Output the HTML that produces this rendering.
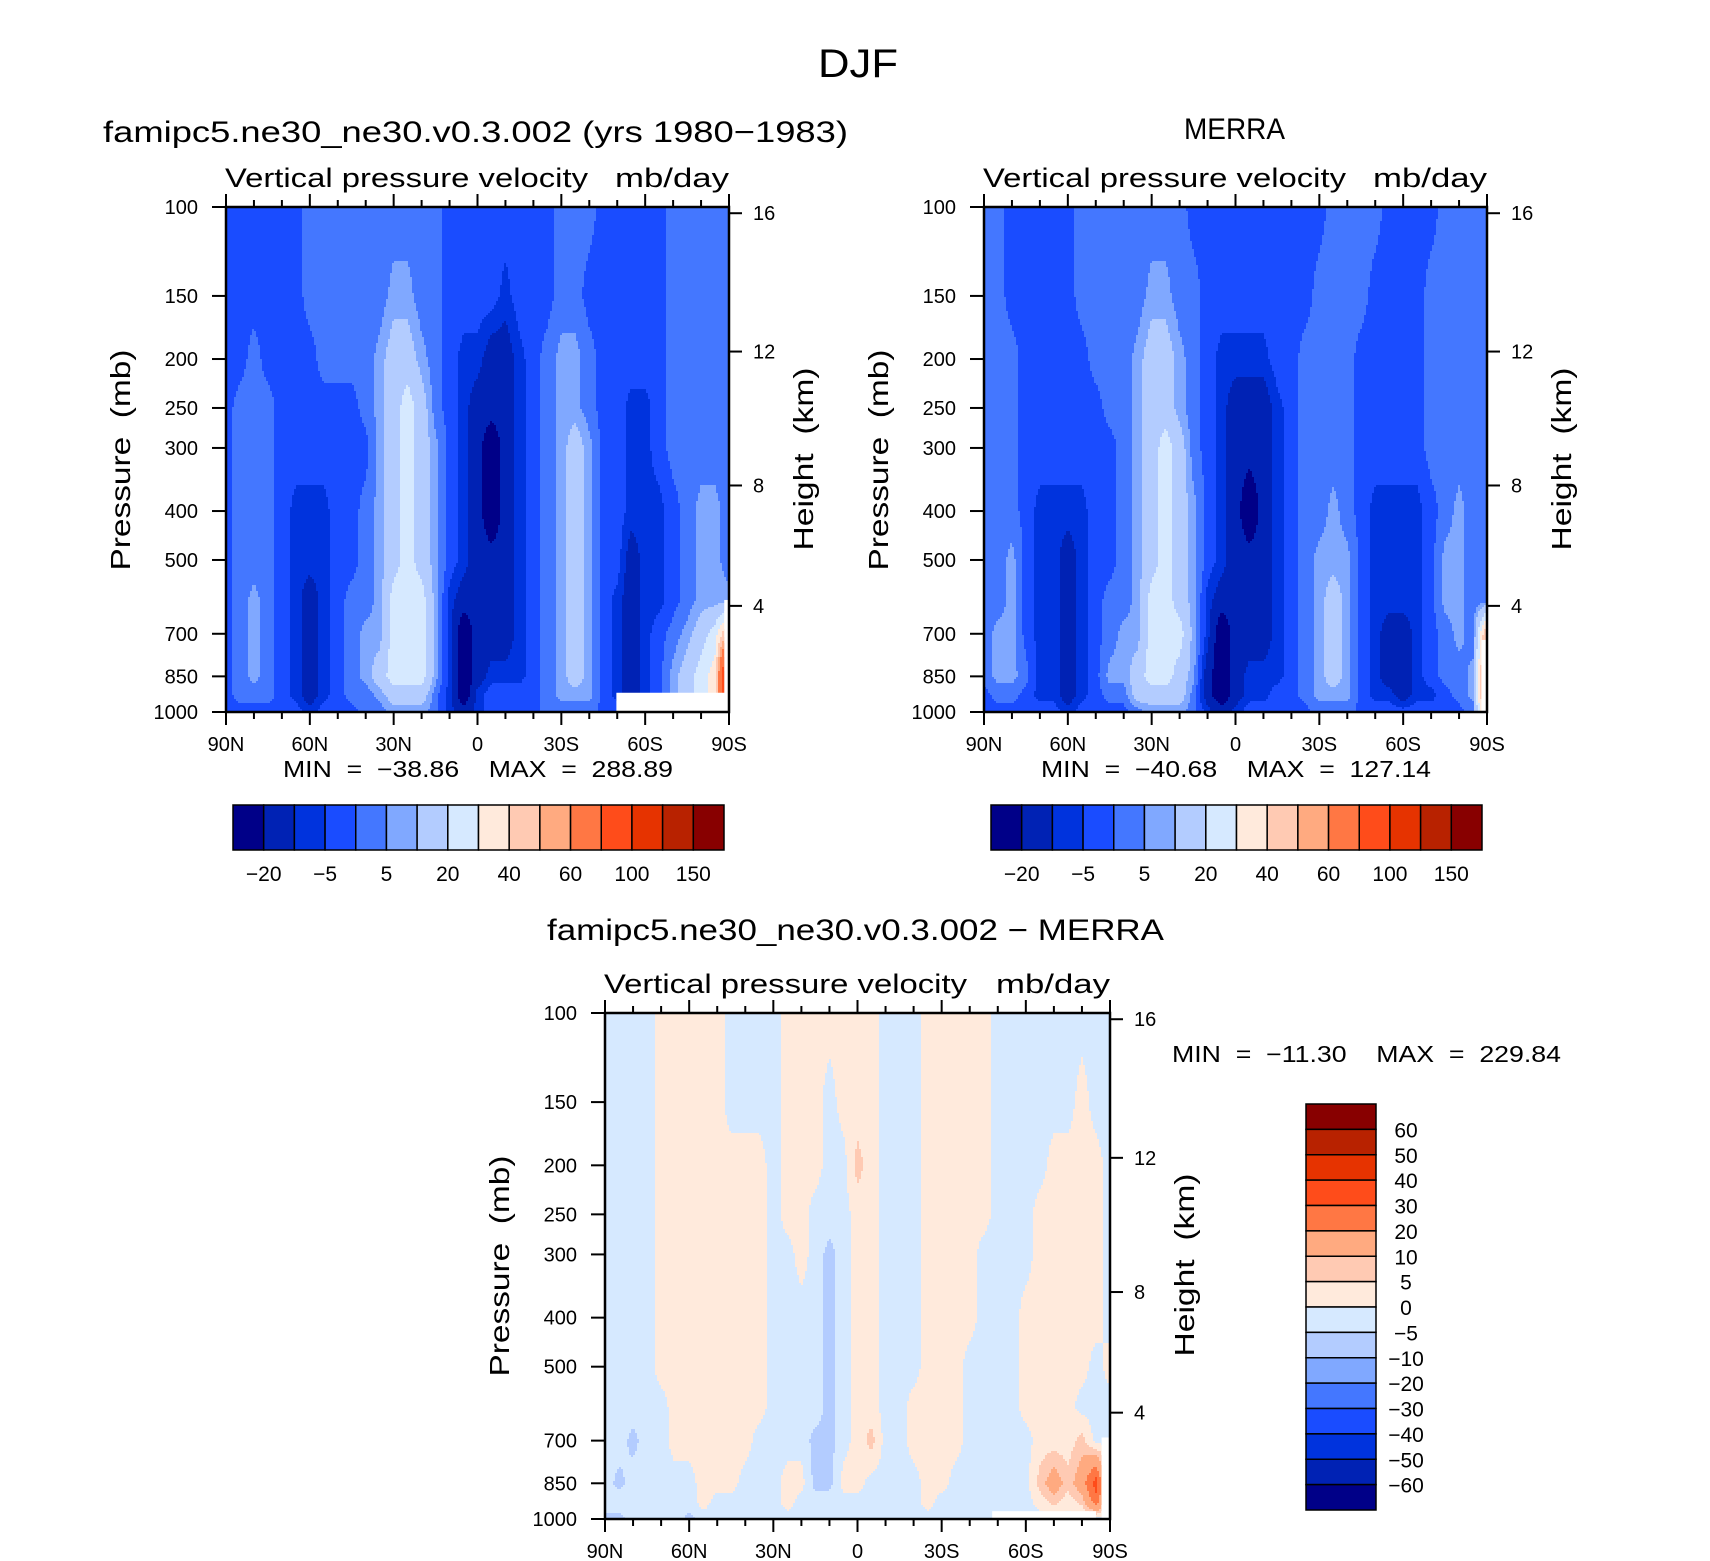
<!DOCTYPE html>
<html><head><meta charset="utf-8"><title>DJF Vertical pressure velocity</title>
<style>
html,body{margin:0;padding:0;background:#fff;}
svg{display:block;font-family:"Liberation Sans",sans-serif;}
text{white-space:pre;}
</style></head>
<body>
<svg id="fig" xmlns="http://www.w3.org/2000/svg" width="1710" height="1561" viewBox="0 0 1710 1561">
<rect x="0" y="0" width="1710" height="1561" fill="#fff"/>
<text x="858" y="77" font-size="40" text-anchor="middle" textLength="80" lengthAdjust="spacingAndGlyphs">DJF</text>
<text x="103" y="142" font-size="30" textLength="745" lengthAdjust="spacingAndGlyphs">famipc5.ne30_ne30.v0.3.002 (yrs 1980−1983)</text>
<text x="1184" y="139" font-size="30" textLength="101" lengthAdjust="spacingAndGlyphs">MERRA</text>
<text x="547" y="940" font-size="30" textLength="617" lengthAdjust="spacingAndGlyphs">famipc5.ne30_ne30.v0.3.002 − MERRA</text>
<g id="plots"></g>
</svg>
<script>
// ---------- data ----------
const lats = [90,85,80,75,70,65,60,55,50,45,40,35,30,25,20,15,10,5,0,-5,-10,-15,-20,-25,-30,-35,-40,-45,-50,-55,-60,-65,-70,-75,-80,-85,-90];
const pLevels = [100,150,200,250,300,400,500,600,700,850,925,1000];
const pressureTicks = [100,150,200,250,300,400,500,700,850,1000];
const kmTicks = [4,8,12,16];
const latTicks = [90,60,30,0,-30,-60,-90];
const latTickLabels = ["90N","60N","30N","0","30S","60S","90S"];
const levelsAbs = [-20,-10,-5,0,5,10,20,30,40,50,60,80,100,120,150];
const levelsDiff = [-60,-50,-40,-30,-20,-10,-5,0,5,10,20,30,40,50,60];
const cbarLabelsAbs = ["−20","−5","5","20","40","60","100","150"];
const cbarLabelsDiff = ["60","50","40","30","20","10","5","0","−5","−10","−20","−30","−40","−50","−60"];
const colors = ["#000088","#0022b4","#0033dd","#1a4cff","#4477ff","#80a8ff","#b3ccff","#d6e9ff","#ffeadc","#ffcab3","#ffaa80","#ff7744","#ff4c1a","#e63300","#b82200","#880000"];

const modelField = [
[-2,-2,-2,-2,-2,-2,2,2,2,2,2,2,2,2,2,2,-2,-2,-2,-2,-2,-2,-2,-2,2,2,2,-2,-2,-2,-2,-2,2,2,2,2,2],
[-2,-2,-2,-2,-2,-2,2,2,2,2,2,2,7,7,2,2,-2,-2,-2,-2,-7,-2,-2,-2,2,2,-2,-2,-2,-2,-2,-2,2,2,2,2,2],
[-2,-2,2,-2,-2,-2,-2,2,2,2,2,7,15,15,7,2,-2,-7,-7,-15,-15,-7,-2,2,7,7,2,-2,-2,-2,-2,-2,2,2,2,2,2],
[-2,2,2,2,-2,-2,-2,-2,-2,-2,2,7,15,25,15,2,-2,-7,-15,-15,-15,-7,-2,2,7,7,2,-2,-2,-7,-7,-2,2,2,2,2,2],
[-2,2,2,2,-2,-2,-2,-2,-2,-2,-2,7,15,25,15,7,-2,-7,-15,-30,-15,-7,-2,2,7,15,7,-2,-2,-7,-7,-2,2,2,2,2,2],
[-2,2,2,2,-2,-7,-7,-7,-2,-2,2,7,15,25,15,7,-2,-7,-15,-30,-15,-7,-2,2,7,15,7,-2,-2,-7,-7,-7,-2,2,7,7,2],
[-2,2,2,2,-2,-7,-7,-7,-2,-2,2,7,15,25,15,7,-2,-7,-15,-15,-15,-7,-2,2,7,15,7,-2,-2,-15,-7,-7,-2,2,7,7,2],
[-2,2,7,2,-2,-7,-15,-7,-2,2,2,7,25,25,25,7,-7,-15,-15,-15,-15,-7,-2,2,7,15,7,-2,-7,-15,-7,-7,-2,2,7,7,7],
[-2,2,7,2,-2,-7,-15,-7,-2,2,7,7,25,25,25,7,-7,-30,-15,-15,-15,-7,-2,2,7,15,7,-2,-7,-15,-7,-2,2,7,15,25,55],
[-2,2,7,2,-2,-7,-15,-7,-2,2,7,15,25,25,25,7,-7,-30,-15,-7,-7,-7,-2,2,7,15,7,-2,-7,-15,-7,-2,7,15,25,35,135],
[-2,2,2,2,-2,-7,-15,-7,-2,2,2,7,15,15,15,2,-7,-30,-7,-2,-2,-2,-2,2,7,7,7,-2,-7,-15,-7,-2,7,15,25,35,135],
[-2,-2,-2,-2,-2,-2,-7,-2,-2,-2,2,2,7,7,7,2,-7,-15,-7,-2,-2,-2,-2,2,2,2,2,-2,-2,-7,-2,-2,2,7,15,25,55]
];
const merraField = [
[2,2,-2,-2,-2,-2,-2,2,2,2,2,2,2,2,2,-2,-2,-2,-2,-2,-2,-2,-2,-2,-2,2,2,2,2,-2,-2,-2,-2,2,2,2,2],
[2,2,-2,-2,-2,-2,-2,2,2,2,2,2,7,7,2,2,-2,-2,-2,-2,-2,-2,-2,-2,2,2,2,2,-2,-2,-2,-2,2,2,2,2,2],
[2,2,2,-2,-2,-2,-2,-2,2,2,2,7,15,15,7,2,-2,-7,-7,-7,-7,-2,-2,2,2,2,2,-2,-2,-2,-2,-2,2,2,2,2,2],
[2,2,2,-2,-2,-2,-2,-2,-2,2,2,7,15,15,7,2,-2,-7,-15,-15,-15,-7,-2,2,2,2,2,-2,-2,-2,-2,-2,2,2,2,2,2],
[2,2,2,-2,-2,-2,-2,-2,-2,-2,2,7,15,25,15,2,-2,-7,-15,-15,-15,-7,-2,2,2,2,2,-2,-2,-2,-2,-2,2,2,2,2,2],
[2,2,2,-2,-7,-7,-7,-7,-2,-2,2,7,15,25,15,7,-2,-7,-15,-30,-15,-7,-2,2,2,7,2,-2,-7,-7,-7,-7,-2,2,7,2,2],
[2,2,7,-2,-7,-7,-15,-7,-2,-2,2,7,15,25,15,7,-2,-7,-15,-15,-15,-7,-2,2,7,7,7,-2,-7,-7,-7,-7,-2,7,7,2,2],
[2,2,7,-2,-7,-7,-15,-7,-2,2,2,7,25,25,15,7,-7,-15,-15,-15,-15,-7,-2,2,7,15,7,-2,-7,-7,-7,-7,-2,7,7,2,2],
[2,7,7,-2,-7,-7,-15,-7,-2,2,7,7,25,25,25,7,-7,-30,-15,-15,-15,-7,-2,2,7,15,7,-2,-7,-15,-15,-7,-2,2,7,2,55],
[2,7,7,2,-7,-7,-15,-7,-2,7,7,15,25,25,15,7,-15,-30,-15,-7,-7,-7,-2,2,7,15,7,-2,-7,-15,-15,-7,-2,2,2,7,70],
[-2,2,2,-2,-7,-7,-15,-7,-2,2,2,15,15,15,15,2,-15,-30,-15,-7,-7,-2,-2,2,7,7,7,-2,-7,-7,-15,-7,-7,-2,2,7,70],
[-2,-2,-2,-2,-2,-2,-7,-2,-2,-2,-2,2,7,7,7,2,-7,-15,-7,-2,-2,-2,-2,-2,2,2,2,-2,-2,-2,-2,-2,-2,-2,-2,2,55]
];
const diffField = [
[-2,-2,-2,-2,2,2,2,2,2,-2,-2,-2,-2,2,2,2,2,2,2,2,-2,-2,-2,2,2,2,2,2,-2,-2,-2,-2,-2,-2,-2,-2,-2],
[-2,-2,-2,-2,2,2,2,2,2,-2,-2,-2,-2,2,2,2,-2,2,2,2,-2,-2,-2,2,2,2,2,2,-2,-2,-2,-2,-2,-2,2,-2,-2],
[-2,-2,-2,-2,2,2,2,2,2,2,2,2,-2,2,2,2,-2,-2,7,2,-2,-2,-2,2,2,2,2,2,-2,-2,-2,-2,2,2,2,2,-2],
[-2,-2,-2,-2,2,2,2,2,2,2,2,2,-2,2,2,-2,-2,-2,2,2,-2,-2,-2,2,2,2,2,2,-2,-2,-2,2,2,2,2,2,-2],
[-2,-2,-2,-2,2,2,2,2,2,2,2,2,-2,-2,2,-2,-7,-2,2,2,-2,-2,-2,2,2,2,2,-2,-2,-2,-2,2,2,2,2,2,-2],
[-2,-2,-2,-2,2,2,2,2,2,2,2,2,-2,-2,-2,-2,-7,-2,2,2,-2,-2,-2,2,2,2,2,-2,-2,-2,2,2,2,2,2,2,-2],
[-2,-2,-2,-2,2,2,2,2,2,2,2,2,-2,-2,-2,-2,-7,-2,2,2,-2,-2,-2,2,2,2,-2,-2,-2,-2,2,2,2,2,2,-2,2],
[-2,-2,-2,-2,-2,2,2,2,2,2,2,2,-2,-2,-2,-2,-7,-2,2,2,-2,-2,2,2,2,2,-2,-2,-2,-2,2,2,2,2,-2,-2,-2],
[-2,-2,-7,-2,-2,2,2,2,2,2,2,-2,-2,-2,-2,-7,-7,-2,2,7,-2,-2,2,2,2,2,-2,-2,-2,-2,-2,2,2,2,7,-2,-2],
[-2,-7,-2,-2,-2,-2,-2,2,2,2,-2,-2,-2,2,2,-7,-7,2,2,-2,-2,-2,-2,2,2,-2,-2,-2,-2,-2,-2,7,15,7,15,35,-2],
[-2,-2,-2,-2,-2,-2,-2,2,-2,-2,-2,-2,-2,2,-2,-2,-2,-2,-2,-2,-2,-2,-2,2,-2,-2,-2,-2,-2,-2,-2,2,7,2,7,25,-2],
[-7,-7,-2,-2,-2,-2,-7,-2,-2,-2,-2,-2,-2,-2,-2,-2,-2,-2,-2,-2,-2,-2,-2,-2,-2,-2,-2,-2,-2,-2,-2,-2,-2,-2,-2,-2,-2]
];
// missing-data regions: [latStart, latEnd, pressureTop]
const modelMissing = [[-49.7,-88.5,916],[-88.3,-90,600]];
const merraMissing = [[-88,-90,720]];
const diffMissing = [[-48,-85,965],[-87,-90,690]];

// ---------- drawing ----------
const NS = "http://www.w3.org/2000/svg";
const root = document.getElementById("plots");
function mk(tag, attrs, parent){
  const e = document.createElementNS(NS, tag);
  for (const k in attrs) e.setAttribute(k, attrs[k]);
  (parent||root).appendChild(e);
  return e;
}
function classOf(v, levels){ let c=0; for(const l of levels){ if(v>=l) c++; } return c; }
function sample(field, fi, lp){
  const nL = lats.length;
  let i = Math.floor(fi); if(i<0)i=0; if(i>nL-2)i=nL-2;
  const tx = Math.min(1,Math.max(0,fi-i));
  let k=0; while(k<pLevels.length-2 && lp>Math.log10(pLevels[k+1])) k++;
  const l0=Math.log10(pLevels[k]), l1=Math.log10(pLevels[k+1]);
  const ty = Math.min(1,Math.max(0,(lp-l0)/(l1-l0)));
  const a=field[k][i], b=field[k][i+1], c=field[k+1][i], d=field[k+1][i+1];
  return (a*(1-tx)+b*tx)*(1-ty)+(c*(1-tx)+d*tx)*ty;
}
function heightToP(km){
  const h=km*1000;
  if(h<=11000) return 1013.25*Math.pow(1-2.25577e-5*h,5.25588);
  return 226.32*Math.exp(-0.000157688*(h-11000));
}

function panel(name, ox, oy, W, H, field, levels, missing, opts){
  const g = mk("g", {});
  
  
  const xOf = lat => ox + (90-lat)/180*W;
  const yOf = p => oy + Math.log10(p/100)*H;
  const cg = mk("g", {"shape-rendering":"crispEdges"}, g);
  
  
  const step=2;
  for(let y=0;y<H;y+=step){
    const lp = 2 + Math.min(y+step/2,H)/H;
    const hh = Math.min(step+0.5, H-y);
    let runStart=0, runC=-1;
    for(let x=0;x<W+step;x+=step){
      let c=-2;
      if(x<W){
        const fi=Math.min(x+step/2,W)/W*(lats.length-1);
        c=classOf(sample(field,fi,lp),levels);
      }
      if(c!==runC){
        if(runC>=0){
          const xe=Math.min(x,W);
          const r=mk("rect",{x:ox+runStart,y:oy+y,width:xe-runStart,height:hh,fill:colors[runC]},cg);
          
          
        }
        runStart=x; runC=c;
      }
    }
  }
  for(const m of missing){
    const x0=xOf(m[0]), x1=xOf(m[1]), y0=yOf(m[2]);
    const r=mk("rect",{x:x0,y:y0,width:x1-x0,height:oy+H-y0,fill:"#fff"},g);
    
    
  }
  const fr=mk("rect",{x:ox,y:oy,width:W,height:H,fill:"none",stroke:"#000","stroke-width":2.5},g);
  
  
  for(let lat=90;lat>=-90;lat-=10){
    const x=xOf(lat), major=(lat%30===0), L=major?13:7;
    const t1=mk("line",{x1:x,y1:oy,x2:x,y2:oy-L,stroke:"#000","stroke-width":2},g);
    
    
    const t2=mk("line",{x1:x,y1:oy+H,x2:x,y2:oy+H+L,stroke:"#000","stroke-width":2},g);
    
    
  }
  latTicks.forEach((lat,i)=>{
    const t=mk("text",{x:xOf(lat),y:oy+H+39,"font-size":20,"text-anchor":"middle"},g);
    t.textContent=latTickLabels[i];
    
    
  });
  pressureTicks.forEach(p=>{
    const y=yOf(p);
    const l=mk("line",{x1:ox,y1:y,x2:ox-14,y2:y,stroke:"#000","stroke-width":2},g);
    
    
    const t=mk("text",{x:ox-28,y:y+7,"font-size":20,"text-anchor":"end"},g);
    t.textContent=String(p);
    
    
  });
  kmTicks.forEach(km=>{
    const y=yOf(heightToP(km));
    const l=mk("line",{x1:ox+W,y1:y,x2:ox+W+13,y2:y,stroke:"#000","stroke-width":2},g);
    
    
    const t=mk("text",{x:ox+W+24,y:y+7,"font-size":20},g);
    t.textContent=String(km);
    
    
  });
  const yt=mk("text",{x:0,y:0,"font-size":28,"text-anchor":"middle",transform:`translate(${ox-96},${oy+253}) rotate(-90)`,textLength:221,lengthAdjust:"spacingAndGlyphs"},g);
  yt.textContent="Pressure  (mb)";
  
  
  const ht=mk("text",{x:0,y:0,"font-size":28,"text-anchor":"middle",transform:`translate(${ox+W+84},${oy+252}) rotate(-90)`,textLength:183,lengthAdjust:"spacingAndGlyphs"},g);
  ht.textContent="Height  (km)";
  
  
  const st=mk("text",{x:ox-1,y:oy-20,"font-size":27,textLength:363,lengthAdjust:"spacingAndGlyphs"},g);
  st.textContent="Vertical pressure velocity";
  
  
  const ut=mk("text",{x:ox+W-114,y:oy-20,"font-size":27,textLength:114,lengthAdjust:"spacingAndGlyphs"},g);
  ut.textContent="mb/day";
  
  
  const mm=mk("text",{x:opts.mmX,y:opts.mmY,"font-size":23,textLength:opts.mmW,lengthAdjust:"spacingAndGlyphs"},g);
  mm.textContent=opts.mm;
  
  
}

function hColorbar(name, x0, y0, w, h){
  const g=mk("g",{});
  
  
  const bw=w/colors.length;
  colors.forEach((c,i)=>{
    const r=mk("rect",{x:x0+i*bw,y:y0,width:bw,height:h,fill:c,stroke:"#000","stroke-width":1.5},g);
    
    
  });
  cbarLabelsAbs.forEach((lab,j)=>{
    const t=mk("text",{x:x0+(2*j+1)*bw,y:y0+h+31,"font-size":21,"text-anchor":"middle"},g);
    t.textContent=lab;
    
    
  });
}
function vColorbar(name, x0, y0, w, h){
  const g=mk("g",{});
  
  
  const bh=h/colors.length;
  for(let i=0;i<colors.length;i++){
    const r=mk("rect",{x:x0,y:y0+i*bh,width:w,height:bh,fill:colors[colors.length-1-i],stroke:"#000","stroke-width":1.5},g);
    
    
  }
  cbarLabelsDiff.forEach((lab,j)=>{
    const t=mk("text",{x:x0+w+30,y:y0+(j+1)*bh+8,"font-size":21,"text-anchor":"middle"},g);
    t.textContent=lab;
    
    
  });
}

panel("model-panel",226,207,503,505,modelField,levelsAbs,modelMissing,{mm:"MIN  =  −38.86    MAX  =  288.89",mmX:283,mmY:777,mmW:390});
panel("merra-panel",984,207,503,505,merraField,levelsAbs,merraMissing,{mm:"MIN  =  −40.68    MAX  =  127.14",mmX:1041,mmY:777,mmW:390});
panel("diff-panel",605,1013,505,506,diffField,levelsDiff,diffMissing,{mm:"MIN  =  −11.30    MAX  =  229.84",mmX:1172,mmY:1062,mmW:389});
hColorbar("model-colorbar",233,805,491,45);
hColorbar("merra-colorbar",991,805,491,45);
vColorbar("diff-colorbar",1306,1104,70,406);
</script>
</body></html>
